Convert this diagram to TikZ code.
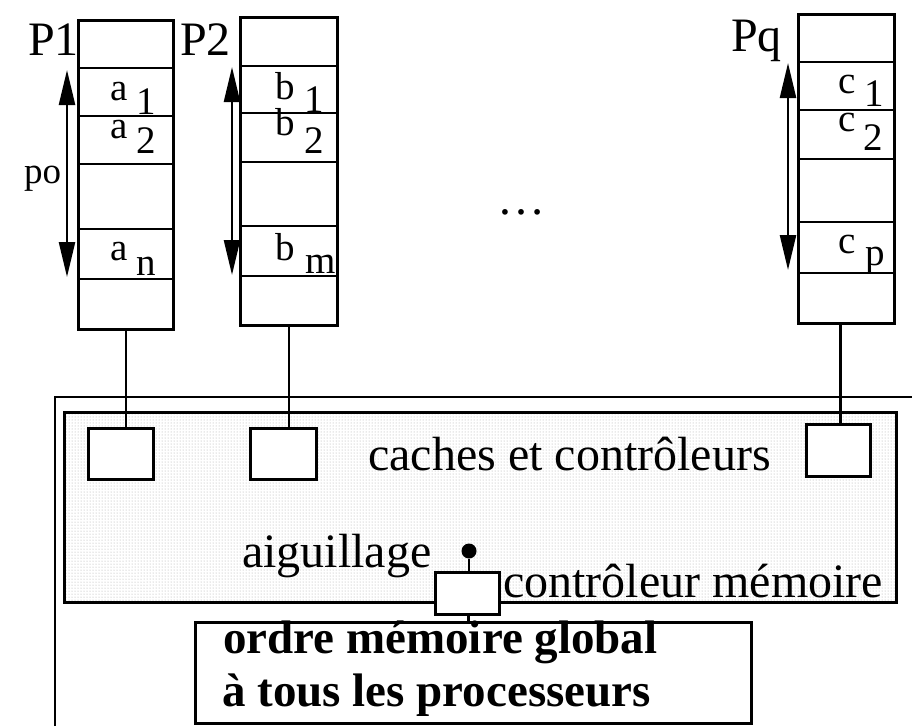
\documentclass[tikz,border=0pt]{standalone}
\usepackage{fontspec}
\setmainfont{Liberation Serif}
\usetikzlibrary{arrows.meta,patterns}
\begin{document}
\begin{tikzpicture}[x=1pt,y=-1pt,
  frame/.style={line width=2.8pt},
  cell/.style={draw, line width=2.8pt, inner sep=0pt, fill=white, anchor=north west},
  big/.style={font=\fontsize{48}{58}\selectfont, inner sep=0pt, anchor=base west},
  lbl/.style={font=\fontsize{39}{46}\selectfont, inner sep=0pt, anchor=base west},
  bold/.style={font=\fontsize{47}{53}\selectfont\bfseries, inner sep=0pt, anchor=base west},
  order/.style={{Triangle[length=35pt,width=16pt]}-{Triangle[length=35pt,width=16pt]}, line width=2.4pt},
  link/.style={line width=2.8pt}]
\useasboundingbox (0,0) rectangle (912,726);

% outer frame (runs off the right and bottom edges)
\draw[frame] (55,726) -- (55,397) -- (912,397);

% shaded zone of caches and controllers
\node[draw, line width=2.8pt, pattern=dots, pattern color=black!35, inner sep=0pt,
      anchor=north west, minimum width=832pt, minimum height=190pt] (zone) at (63,411) {};

% processor P1
\node[cell, minimum width=95pt, minimum height=309pt] (p1) at (77,19) {};
\foreach \y in {68,116,164,229,279} \draw[frame] (77,\y) -- (172,\y);
% processor P2
\node[cell, minimum width=97pt, minimum height=308pt] (p2) at (239,16) {};
\foreach \y in {66,113,162,226,276} \draw[frame] (239,\y) -- (336,\y);
% processor Pq
\node[cell, minimum width=96pt, minimum height=309pt] (pq) at (797,13) {};
\foreach \y in {62,110,159,222,273} \draw[frame] (797,\y) -- (893,\y);

% processor names
\node[big] (n1) at (28,55) {P1};
\node[big] (n2) at (180,55) {P2};
\node[big] (nq) at (731,51) {Pq};
\node[font=\fontsize{37}{42}\selectfont, inner sep=0pt, anchor=base west] (po) at (24,183) {po};
\node[big, anchor=base] (dots) at (521,214) {…};

% program order arrows
\coordinate (o1a) at (67,70);  \coordinate (o1b) at (67,277);
\coordinate (o2a) at (232,67); \coordinate (o2b) at (232,275);
\coordinate (oqa) at (788,63); \coordinate (oqb) at (788,270);
\draw[order] (o1a) -- (o1b);
\draw[order] (o2a) -- (o2b);
\draw[order] (oqa) -- (oqb);

% operations of P1
\node[lbl] (a1) at (110,100) {a}; \node[lbl] (a1i) at (136,114) {1};
\node[lbl] (a2) at (110,138) {a}; \node[lbl] (a2i) at (136,153) {2};
\node[lbl] (an) at (110,260) {a};  \node[lbl] (ani) at (136,275) {n};
% operations of P2
\node[lbl] (b1) at (275,99) {b};  \node[lbl] (b1i) at (304,112) {1};
\node[lbl] (b2) at (275,135) {b}; \node[lbl] (b2i) at (304,153) {2};
\node[lbl] (bm) at (275,260) {b}; \node[lbl] (bmi) at (305,273) {m};
% operations of Pq
\node[lbl] (c1) at (838,93) {c};  \node[lbl] (c1i) at (864,106) {1};
\node[lbl] (c2) at (838,131) {c}; \node[lbl] (c2i) at (863,150) {2};
\node[lbl] (cp) at (838,253) {c}; \node[lbl] (cpi) at (865,265) {p};

% caches
\node[cell, minimum width=65pt, minimum height=51pt] (k1) at (87,427) {};
\node[cell, minimum width=66pt, minimum height=51pt] (k2) at (249,427) {};
\node[cell, minimum width=64pt, minimum height=52pt] (kq) at (805,423) {};
\draw[link] (p1.south) -- (p1.south |- k1.north);
\draw[link] (p2.south) -- (p2.south |- k2.north);
\coordinate (pqout) at ([xshift=-6pt]pq.south);
\draw[link] (pqout) -- (pqout |- kq.north);

\node[big] (caches) at (368,470) {caches et contrôleurs};

% memory controller and switch
\node[cell, minimum width=64pt, minimum height=42pt] (mc) at (434,571) {};
\node[circle, fill=black, inner sep=0pt, minimum size=15pt] (sw) at (469,551) {};
\draw[link] (sw) -- (sw |- mc.north);
\node[big] (aig) at (242,567) {aiguillage};
\node[big] (ctl) at (503,597) {contrôleur mémoire};

% global memory order
\node[cell, minimum width=556pt, minimum height=101pt] (glob) at (194,621) {};
\coordinate (mcout) at ([xshift=1pt]mc.south);
\draw[link] (mcout) -- (mcout |- glob.north);
\node[bold] (g1) at (223,653) {ordre mémoire global};
\node[bold] (g2) at (222,706) {à tous les processeurs};
\end{tikzpicture}
\end{document}
